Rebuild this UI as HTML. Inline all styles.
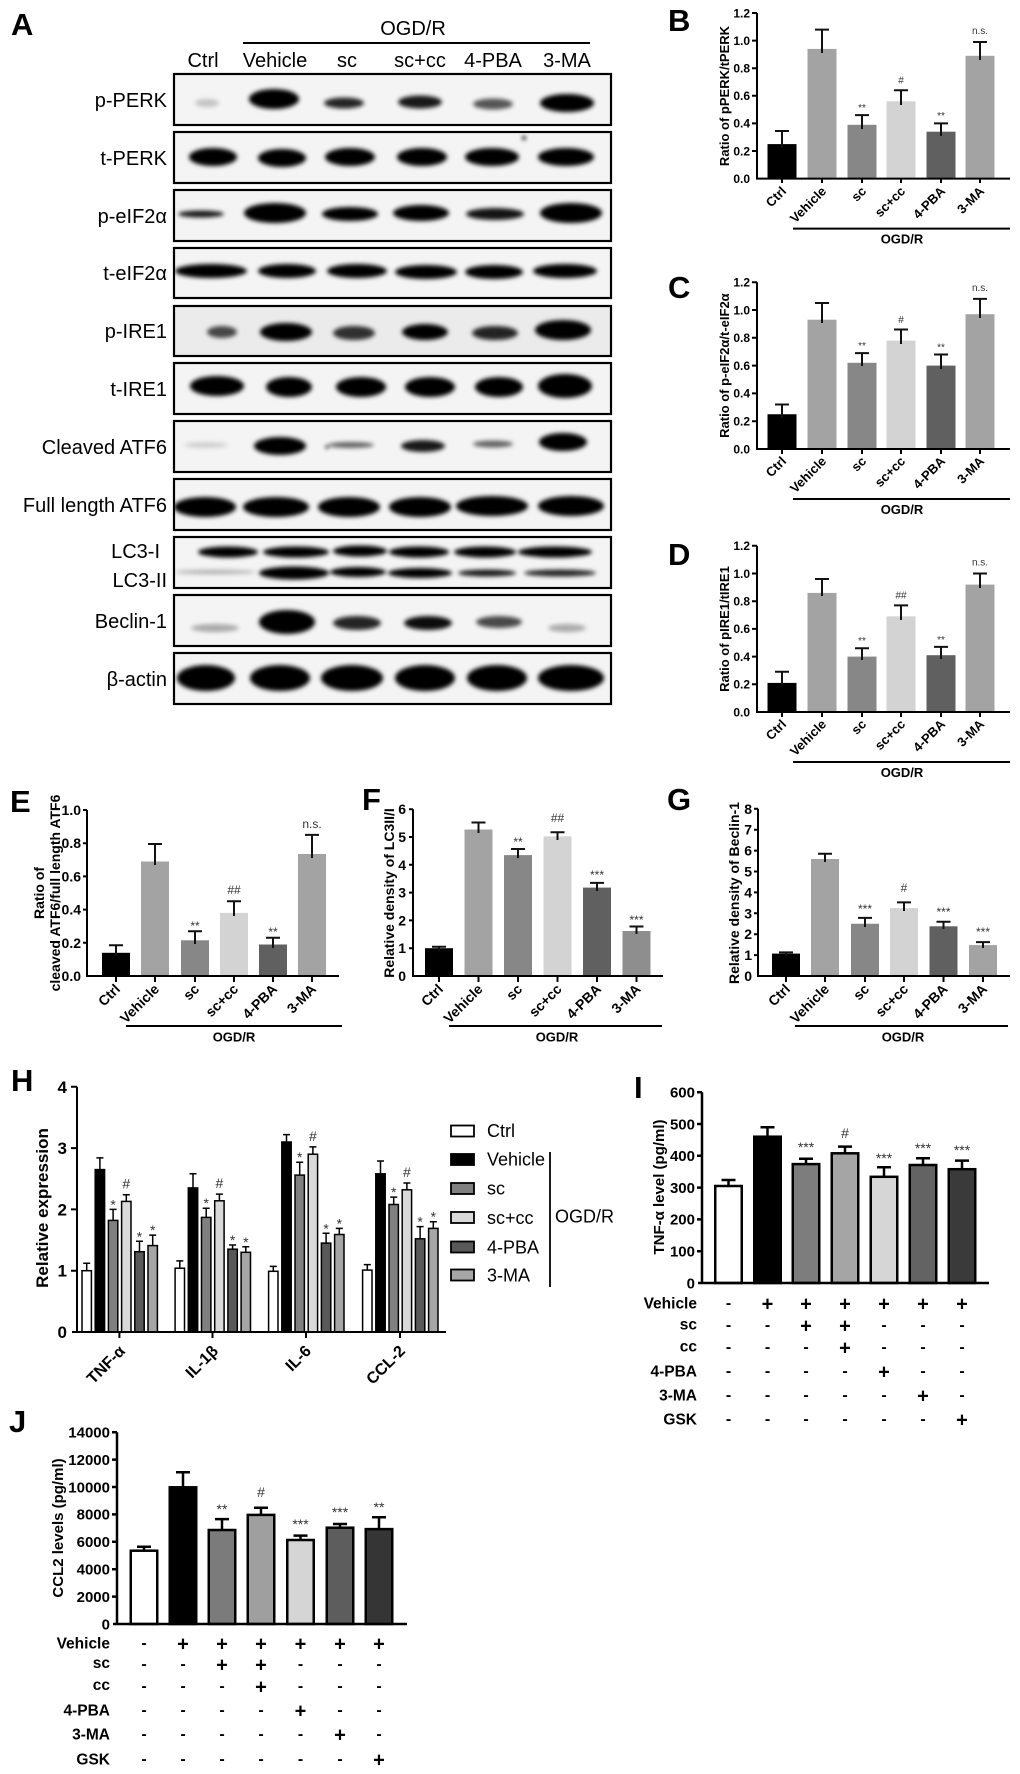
<!DOCTYPE html>
<html><head><meta charset="utf-8"><style>
html,body{margin:0;padding:0;background:#fff;}
svg{display:block;}
text{font-family:"Liberation Sans",Arial,sans-serif;}
.b{font-weight:bold;}
</style></head><body>
<svg xmlns="http://www.w3.org/2000/svg" width="1020" height="1774" viewBox="0 0 1020 1774">
<defs>
<filter id="bl" x="-20%" y="-20%" width="140%" height="140%"><feGaussianBlur stdDeviation="2.1"/></filter>
<clipPath id="bc">
<rect x="174" y="74" width="437" height="51"/><rect x="174" y="132" width="437" height="51"/><rect x="174" y="190" width="437" height="51"/><rect x="174" y="248" width="437" height="50"/><rect x="174" y="306" width="437" height="50"/><rect x="174" y="363" width="437" height="51"/><rect x="174" y="421" width="437" height="51"/><rect x="174" y="479" width="437" height="51"/><rect x="174" y="537" width="437" height="51"/><rect x="174" y="595" width="437" height="51"/><rect x="174" y="653" width="437" height="51"/>
</clipPath>
</defs>
<rect width="1020" height="1774" fill="#fff"/>

<!-- Panel letters -->
<g class="b" font-size="31">
<text x="11" y="35">A</text><text x="668" y="31">B</text><text x="668" y="298">C</text><text x="668" y="565">D</text>
<text x="10" y="812">E</text><text x="362" y="810">F</text><text x="667" y="810">G</text>
<text x="11" y="1091">H</text><text x="634" y="1098">I</text><text x="9" y="1432">J</text>
</g>

<!-- ============ Panel A ============ -->
<text x="413" y="35" font-size="20" text-anchor="middle">OGD/R</text>
<line x1="243" y1="43" x2="590" y2="43" stroke="#000" stroke-width="2"/>
<g font-size="20" text-anchor="middle">
<text x="203" y="67">Ctrl</text><text x="275" y="67">Vehicle</text><text x="347" y="67">sc</text><text x="420" y="67">sc+cc</text><text x="493" y="67">4-PBA</text><text x="567" y="67">3-MA</text>
</g>
<g font-size="20" text-anchor="end">
<text x="167" y="107">p-PERK</text>
<text x="167" y="165">t-PERK</text>
<text x="167" y="223">p-eIF2α</text>
<text x="167" y="280">t-eIF2α</text>
<text x="167" y="338">p-IRE1</text>
<text x="167" y="396">t-IRE1</text>
<text x="167" y="454">Cleaved ATF6</text>
<text x="167" y="512">Full length ATF6</text>
<text x="160" y="558">LC3-I</text>
<text x="167" y="587">LC3-II</text>
<text x="167" y="628">Beclin-1</text>
<text x="167" y="686">β-actin</text>
</g>
<g fill="#f4f4f4">
<rect x="174" y="74" width="437" height="51"/><rect x="174" y="132" width="437" height="51"/><rect x="174" y="190" width="437" height="51"/><rect x="174" y="248" width="437" height="50"/><rect x="174" y="306" width="437" height="50" fill="#ebebeb"/><rect x="174" y="363" width="437" height="51"/><rect x="174" y="421" width="437" height="51"/><rect x="174" y="479" width="437" height="51"/><rect x="174" y="537" width="437" height="51"/><rect x="174" y="595" width="437" height="51"/><rect x="174" y="653" width="437" height="51"/>
</g>
<g clip-path="url(#bc)"><g filter="url(#bl)" fill="#000">
<!-- p-PERK -->
<ellipse cx="207" cy="103" rx="12" ry="4" opacity="0.2"/>
<ellipse cx="274" cy="99" rx="25" ry="10"/>
<ellipse cx="344" cy="103" rx="20" ry="5.5" opacity="0.85"/>
<ellipse cx="420" cy="102" rx="22" ry="6.5" opacity="0.9"/>
<ellipse cx="493" cy="104" rx="20" ry="5.5" opacity="0.65"/>
<ellipse cx="567" cy="103" rx="27" ry="9"/>
<!-- t-PERK -->
<ellipse cx="213" cy="157" rx="24" ry="9"/>
<ellipse cx="282" cy="158" rx="24" ry="9"/>
<ellipse cx="350" cy="157" rx="25" ry="9"/>
<ellipse cx="422" cy="157" rx="25" ry="9"/>
<ellipse cx="492" cy="157" rx="27" ry="9"/>
<ellipse cx="566" cy="157" rx="28" ry="9"/>
<circle cx="524" cy="138" r="2"/>
<!-- p-eIF2a -->
<ellipse cx="201" cy="214" rx="23" ry="3.5" opacity="0.9"/>
<ellipse cx="275" cy="213" rx="31" ry="10"/>
<ellipse cx="350" cy="214" rx="28" ry="7"/>
<ellipse cx="421" cy="213" rx="28" ry="8"/>
<ellipse cx="495" cy="214" rx="29" ry="6" opacity="0.92"/>
<ellipse cx="571" cy="213" rx="31" ry="10"/>
<!-- t-eIF2a -->
<ellipse cx="211" cy="271" rx="36" ry="7"/>
<ellipse cx="287" cy="271" rx="29" ry="7"/>
<ellipse cx="357" cy="271" rx="30" ry="7"/>
<ellipse cx="426" cy="272" rx="31" ry="7"/>
<ellipse cx="494" cy="272" rx="29" ry="7"/>
<ellipse cx="565" cy="271" rx="32" ry="7"/>
<!-- p-IRE1 -->
<ellipse cx="222" cy="332" rx="15" ry="6" opacity="0.7"/>
<ellipse cx="286" cy="332" rx="26" ry="9"/>
<ellipse cx="354" cy="333" rx="21" ry="7" opacity="0.8"/>
<ellipse cx="425" cy="332" rx="23" ry="8"/>
<ellipse cx="495" cy="333" rx="23" ry="7" opacity="0.85"/>
<ellipse cx="563" cy="330" rx="28" ry="10"/>
<!-- t-IRE1 -->
<ellipse cx="217" cy="386" rx="27" ry="10"/>
<ellipse cx="289" cy="387" rx="23" ry="10"/>
<ellipse cx="361" cy="387" rx="25" ry="10"/>
<ellipse cx="430" cy="387" rx="25" ry="10"/>
<ellipse cx="499" cy="387" rx="24" ry="10"/>
<ellipse cx="565" cy="386" rx="27" ry="12"/>
<!-- Cleaved ATF6 -->
<ellipse cx="206" cy="445" rx="22" ry="3" opacity="0.15"/>
<ellipse cx="280" cy="446" rx="26" ry="9"/>
<ellipse cx="351" cy="445" rx="23" ry="3" opacity="0.6"/>
<ellipse cx="423" cy="446" rx="22" ry="6" opacity="0.9"/>
<ellipse cx="493" cy="444" rx="20" ry="3.5" opacity="0.6"/>
<ellipse cx="563" cy="442" rx="24" ry="9"/>
<circle cx="327" cy="447" r="1.6"/>
<!-- Full length ATF6 -->
<ellipse cx="205" cy="507" rx="31" ry="10"/>
<ellipse cx="276" cy="507" rx="33" ry="10"/>
<ellipse cx="349" cy="507" rx="31" ry="10"/>
<ellipse cx="420" cy="507" rx="31" ry="10"/>
<ellipse cx="492" cy="506" rx="36" ry="10"/>
<ellipse cx="571" cy="506" rx="33" ry="10"/>
<!-- LC3 -->
<ellipse cx="228" cy="552" rx="30" ry="5.5"/>
<ellipse cx="296" cy="552" rx="33" ry="5.5"/>
<ellipse cx="360" cy="551" rx="27" ry="5.5"/>
<ellipse cx="419" cy="552" rx="30" ry="5.5"/>
<ellipse cx="485" cy="552" rx="31" ry="5.5"/>
<ellipse cx="555" cy="552" rx="37" ry="5.5"/>
<ellipse cx="215" cy="572" rx="40" ry="2.5" opacity="0.25"/>
<ellipse cx="294" cy="573" rx="35" ry="6.5"/>
<ellipse cx="358" cy="572" rx="28" ry="5"/>
<ellipse cx="420" cy="573" rx="32" ry="5"/>
<ellipse cx="487" cy="573" rx="29" ry="3.5" opacity="0.9"/>
<ellipse cx="560" cy="573" rx="36" ry="3.5" opacity="0.85"/>
<!-- Beclin-1 -->
<ellipse cx="215" cy="628" rx="24" ry="4" opacity="0.3"/>
<ellipse cx="287" cy="622" rx="28" ry="12"/>
<ellipse cx="357" cy="623" rx="24" ry="7" opacity="0.85"/>
<ellipse cx="428" cy="623" rx="24" ry="7" opacity="0.95"/>
<ellipse cx="499" cy="622" rx="23" ry="6" opacity="0.7"/>
<ellipse cx="567" cy="628" rx="19" ry="4" opacity="0.3"/>
<!-- beta-actin -->
<ellipse cx="206" cy="678" rx="29" ry="13"/>
<ellipse cx="280" cy="678" rx="30" ry="13"/>
<ellipse cx="352" cy="678" rx="31" ry="13"/>
<ellipse cx="425" cy="678" rx="30" ry="13"/>
<ellipse cx="497" cy="678" rx="30" ry="13"/>
<ellipse cx="571" cy="678" rx="33" ry="13"/>
</g></g>
<g fill="none" stroke="#000" stroke-width="2.2">
<rect x="174" y="74" width="437" height="51"/><rect x="174" y="132" width="437" height="51"/><rect x="174" y="190" width="437" height="51"/><rect x="174" y="248" width="437" height="50"/><rect x="174" y="306" width="437" height="50"/><rect x="174" y="363" width="437" height="51"/><rect x="174" y="421" width="437" height="51"/><rect x="174" y="479" width="437" height="51"/><rect x="174" y="537" width="437" height="51"/><rect x="174" y="595" width="437" height="51"/><rect x="174" y="653" width="437" height="51"/>
</g>

<!-- ============ Panel B ============ -->
<g>
<rect x="767.5" y="144.1" width="29" height="34.5" fill="#000"/>
<rect x="807.5" y="48.9" width="29" height="129.7" fill="#a3a3a3"/>
<rect x="847.5" y="124.8" width="29" height="53.8" fill="#878787"/>
<rect x="886.5" y="101.3" width="29" height="77.3" fill="#d3d3d3"/>
<rect x="926.5" y="131.7" width="29" height="46.9" fill="#606060"/>
<rect x="965.5" y="55.8" width="29" height="122.8" fill="#a3a3a3"/>
<path d="M782 148V131M775 131H789M822 53V29.6M815 29.6H829M862 129V115.1M855 115.1H869M901 105V90.3M894 90.3H908M941 136V123.4M934 123.4H948M980 60V42M973 42H987" stroke="#111" stroke-width="2" fill="none"/>
<path d="M757 13V178.6H1010M752 13H757M752 40.6H757M752 68.2H757M752 95.8H757M752 123.4H757M752 151H757M782 178.6V183M822 178.6V183M862 178.6V183M901 178.6V183M941 178.6V183M980 178.6V183" stroke="#000" stroke-width="2" fill="none"/>
<g class="b" font-size="12" text-anchor="end">
<text x="750" y="17.3">1.2</text><text x="750" y="44.9">1.0</text><text x="750" y="72.5">0.8</text><text x="750" y="100.1">0.6</text><text x="750" y="127.7">0.4</text><text x="750" y="155.3">0.2</text><text x="750" y="182.9">0.0</text>
</g>
<g font-size="10" fill="#333" text-anchor="middle">
<text x="862" y="111">**</text><text x="901" y="83.5">#</text><text x="941" y="119">**</text><text x="980" y="34">n.s.</text>
</g>
<g class="b" font-size="13" text-anchor="end">
<text transform="translate(787,192) rotate(-45)">Ctrl</text>
<text transform="translate(827,192) rotate(-45)">Vehicle</text>
<text transform="translate(867,192) rotate(-45)">sc</text>
<text transform="translate(906,192) rotate(-45)">sc+cc</text>
<text transform="translate(946,192) rotate(-45)">4-PBA</text>
<text transform="translate(985,192) rotate(-45)">3-MA</text>
</g>
<line x1="793" y1="228.6" x2="1010" y2="228.6" stroke="#000" stroke-width="2"/>
<text x="902" y="243.6" class="b" font-size="13" text-anchor="middle">OGD/R</text>
<text transform="translate(729,96) rotate(-90)" class="b" font-size="13" text-anchor="middle">Ratio of pPERK/tPERK</text>
</g>

<!-- ============ Panel C ============ -->
<g>
<rect x="767.5" y="414.25" width="29" height="34.75" fill="#000"/>
<rect x="807.5" y="319.7" width="29" height="129.3" fill="#a3a3a3"/>
<rect x="847.5" y="362.8" width="29" height="86.2" fill="#878787"/>
<rect x="886.5" y="340.6" width="29" height="108.4" fill="#d3d3d3"/>
<rect x="926.5" y="365.6" width="29" height="83.4" fill="#606060"/>
<rect x="965.5" y="314.2" width="29" height="134.8" fill="#a3a3a3"/>
<path d="M782 418V404.5M775 404.5H789M822 323V303M815 303H829M862 366V353.1M855 353.1H869M901 344V329.5M894 329.5H908M941 369V354.5M934 354.5H948M980 318V298.9M973 298.9H987" stroke="#111" stroke-width="2" fill="none"/>
<path d="M757 282.2V449H1010M752 282.2H757M752 310H757M752 337.8H757M752 365.6H757M752 393.4H757M752 421.2H757M782 449V454M822 449V454M862 449V454M901 449V454M941 449V454M980 449V454" stroke="#000" stroke-width="2" fill="none"/>
<g class="b" font-size="12" text-anchor="end">
<text x="750" y="286.5">1.2</text><text x="750" y="314.3">1.0</text><text x="750" y="342.1">0.8</text><text x="750" y="369.9">0.6</text><text x="750" y="397.7">0.4</text><text x="750" y="425.5">0.2</text><text x="750" y="453.3">0.0</text>
</g>
<g font-size="10" fill="#333" text-anchor="middle">
<text x="862" y="349">**</text><text x="901" y="323">#</text><text x="941" y="350.5">**</text><text x="980" y="291">n.s.</text>
</g>
<g class="b" font-size="13" text-anchor="end">
<text transform="translate(787,462) rotate(-45)">Ctrl</text>
<text transform="translate(827,462) rotate(-45)">Vehicle</text>
<text transform="translate(867,462) rotate(-45)">sc</text>
<text transform="translate(906,462) rotate(-45)">sc+cc</text>
<text transform="translate(946,462) rotate(-45)">4-PBA</text>
<text transform="translate(985,462) rotate(-45)">3-MA</text>
</g>
<line x1="793" y1="499" x2="1010" y2="499" stroke="#000" stroke-width="2"/>
<text x="902" y="514" class="b" font-size="13" text-anchor="middle">OGD/R</text>
<text transform="translate(729,365.6) rotate(-90)" class="b" font-size="13" text-anchor="middle">Ratio of p-eIF2α/t-eIF2α</text>
</g>

<!-- ============ Panel D ============ -->
<g>
<rect x="767.5" y="682.9" width="29" height="29.1" fill="#000"/>
<rect x="807.5" y="592.9" width="29" height="119.1" fill="#a3a3a3"/>
<rect x="847.5" y="656.6" width="29" height="55.4" fill="#878787"/>
<rect x="886.5" y="616.4" width="29" height="95.6" fill="#d3d3d3"/>
<rect x="926.5" y="655.2" width="29" height="56.8" fill="#606060"/>
<rect x="965.5" y="584.6" width="29" height="127.4" fill="#a3a3a3"/>
<path d="M782 686V671.8M775 671.8H789M822 596V579M815 579H829M862 660V648.3M855 648.3H869M901 620V605.4M894 605.4H908M941 659V646.9M934 646.9H948M980 588V573.5M973 573.5H987" stroke="#111" stroke-width="2" fill="none"/>
<path d="M757 545.8V712H1010M752 545.8H757M752 573.5H757M752 601.2H757M752 628.9H757M752 656.6H757M752 684.3H757M782 712V717M822 712V717M862 712V717M901 712V717M941 712V717M980 712V717" stroke="#000" stroke-width="2" fill="none"/>
<g class="b" font-size="12" text-anchor="end">
<text x="750" y="550.1">1.2</text><text x="750" y="577.8">1.0</text><text x="750" y="605.5">0.8</text><text x="750" y="633.2">0.6</text><text x="750" y="660.9">0.4</text><text x="750" y="688.6">0.2</text><text x="750" y="716.3">0.0</text>
</g>
<g font-size="10" fill="#333" text-anchor="middle">
<text x="862" y="644">**</text><text x="901" y="598.5">##</text><text x="941" y="643">**</text><text x="980" y="565.5">n.s.</text>
</g>
<g class="b" font-size="13" text-anchor="end">
<text transform="translate(787,725) rotate(-45)">Ctrl</text>
<text transform="translate(827,725) rotate(-45)">Vehicle</text>
<text transform="translate(867,725) rotate(-45)">sc</text>
<text transform="translate(906,725) rotate(-45)">sc+cc</text>
<text transform="translate(946,725) rotate(-45)">4-PBA</text>
<text transform="translate(985,725) rotate(-45)">3-MA</text>
</g>
<line x1="793" y1="762" x2="1010" y2="762" stroke="#000" stroke-width="2"/>
<text x="902" y="777" class="b" font-size="13" text-anchor="middle">OGD/R</text>
<text transform="translate(729,629) rotate(-90)" class="b" font-size="13" text-anchor="middle">Ratio of pIRE1/tIRE1</text>
</g>

<!-- ============ Panel E ============ -->
<g>
<rect x="102" y="952.8" width="28" height="23.2" fill="#000"/>
<rect x="141" y="861.5" width="28" height="114.5" fill="#a3a3a3"/>
<rect x="181" y="940.3" width="28" height="35.7" fill="#878787"/>
<rect x="220" y="912.9" width="28" height="63.1" fill="#d3d3d3"/>
<rect x="259" y="944.5" width="28" height="31.5" fill="#606060"/>
<rect x="298" y="854" width="28" height="122" fill="#a3a3a3"/>
<path d="M116 956V945.3M109 945.3H123M155 865V844M148 844H162M195 944V931.2M188 931.2H202M234 916V901.3M227 901.3H241M273 948V937.8M266 937.8H280M312 858V834.9M305 834.9H319" stroke="#111" stroke-width="2" fill="none"/>
<path d="M87 810V976H339M83 810H87M83 843.2H87M83 876.4H87M83 909.6H87M83 942.8H87M116 976V982M155 976V982M195 976V982M234 976V982M273 976V982M312 976V982" stroke="#000" stroke-width="2" fill="none"/>
<g class="b" font-size="14" text-anchor="end">
<text x="81" y="815">1.0</text><text x="81" y="848.2">0.8</text><text x="81" y="881.4">0.6</text><text x="81" y="914.6">0.4</text><text x="81" y="947.8">0.2</text><text x="81" y="981">0.0</text>
</g>
<g font-size="12" fill="#333" text-anchor="middle">
<text x="195" y="930">**</text><text x="234" y="894">##</text><text x="273" y="936">**</text><text x="312" y="828">n.s.</text>
</g>
<g class="b" font-size="14" text-anchor="end">
<text transform="translate(121,990) rotate(-45)">Ctrl</text>
<text transform="translate(160,990) rotate(-45)">Vehicle</text>
<text transform="translate(200,990) rotate(-45)">sc</text>
<text transform="translate(239,990) rotate(-45)">sc+cc</text>
<text transform="translate(278,990) rotate(-45)">4-PBA</text>
<text transform="translate(317,990) rotate(-45)">3-MA</text>
</g>
<line x1="126" y1="1026" x2="342" y2="1026" stroke="#000" stroke-width="2"/>
<text x="234" y="1041.5" class="b" font-size="13" text-anchor="middle">OGD/R</text>
<text transform="translate(44,893) rotate(-90)" class="b" font-size="14" text-anchor="middle">Ratio of</text>
<text transform="translate(60,893) rotate(-90)" class="b" font-size="14" text-anchor="middle">cleaved ATF6/full length ATF6</text>
</g>

<!-- ============ Panel F ============ -->
<g>
<rect x="425" y="948.2" width="28" height="27.8" fill="#000"/>
<rect x="464.5" y="829.5" width="28" height="146.5" fill="#a3a3a3"/>
<rect x="504" y="855.1" width="28" height="120.9" fill="#878787"/>
<rect x="543.5" y="836.4" width="28" height="139.6" fill="#d3d3d3"/>
<rect x="583" y="887.6" width="28" height="88.4" fill="#606060"/>
<rect x="622.5" y="931" width="28" height="45" fill="#8e8e8e"/>
<path d="M439 951V946.8M432 946.8H446M478.5 833V822.5M471.5 822.5H485.5M518 858V849M511 849H525M557.5 840V832.3M550.5 832.3H564.5M597 891V882.9M590 882.9H604M636.5 934V926.5M629.5 926.5H643.5" stroke="#111" stroke-width="2" fill="none"/>
<path d="M413 809.2V976H663M409 809.2H413M409 837H413M409 864.8H413M409 892.6H413M409 920.4H413M409 948.2H413M439 976V982M478.5 976V982M518 976V982M557.5 976V982M597 976V982M636.5 976V982" stroke="#000" stroke-width="2" fill="none"/>
<g class="b" font-size="14" text-anchor="end">
<text x="406" y="814.2">6</text><text x="406" y="842">5</text><text x="406" y="869.8">4</text><text x="406" y="897.6">3</text><text x="406" y="925.4">2</text><text x="406" y="953.2">1</text><text x="406" y="981">0</text>
</g>
<g font-size="12" fill="#333" text-anchor="middle">
<text x="518" y="846">**</text><text x="557.5" y="822">##</text><text x="597" y="879">***</text><text x="636.5" y="924">***</text>
</g>
<g class="b" font-size="14" text-anchor="end">
<text transform="translate(444,990) rotate(-45)">Ctrl</text>
<text transform="translate(483.5,990) rotate(-45)">Vehicle</text>
<text transform="translate(523,990) rotate(-45)">sc</text>
<text transform="translate(562.5,990) rotate(-45)">sc+cc</text>
<text transform="translate(602,990) rotate(-45)">4-PBA</text>
<text transform="translate(641.5,990) rotate(-45)">3-MA</text>
</g>
<line x1="449" y1="1026" x2="662" y2="1026" stroke="#000" stroke-width="2"/>
<text x="557" y="1041.5" class="b" font-size="13" text-anchor="middle">OGD/R</text>
<text transform="translate(394,893) rotate(-90)" class="b" font-size="14" text-anchor="middle">Relative density of LC3II/I</text>
</g>

<!-- ============ Panel G ============ -->
<g>
<rect x="772" y="953.6" width="28" height="22.4" fill="#000"/>
<rect x="811" y="859" width="28" height="117" fill="#a3a3a3"/>
<rect x="851" y="923.75" width="28" height="52.25" fill="#878787"/>
<rect x="890" y="908.1" width="28" height="67.9" fill="#d3d3d3"/>
<rect x="929.5" y="926.3" width="28" height="49.7" fill="#606060"/>
<rect x="969" y="945.1" width="28" height="30.9" fill="#a3a3a3"/>
<path d="M786 956V952.4M779 952.4H793M825 862V853.7M818 853.7H832M865 927V917.9M858 917.9H872M904 911V902.4M897 902.4H911M943.5 929V921.7M936.5 921.7H950.5M983 948V942.1M976 942.1H990" stroke="#111" stroke-width="2" fill="none"/>
<path d="M758 808.8V976H1010M754 808.8H758M754 829.7H758M754 850.6H758M754 871.5H758M754 892.4H758M754 913.3H758M754 934.2H758M754 955.1H758M786 976V982M825 976V982M865 976V982M904 976V982M943.5 976V982M983 976V982" stroke="#000" stroke-width="2" fill="none"/>
<g class="b" font-size="14" text-anchor="end">
<text x="752" y="813.8">8</text><text x="752" y="834.7">7</text><text x="752" y="855.6">6</text><text x="752" y="876.5">5</text><text x="752" y="897.4">4</text><text x="752" y="918.3">3</text><text x="752" y="939.2">2</text><text x="752" y="960.1">1</text><text x="752" y="981">0</text>
</g>
<g font-size="12" fill="#333" text-anchor="middle">
<text x="865" y="913">***</text><text x="904" y="892">#</text><text x="943.5" y="916">***</text><text x="983" y="936">***</text>
</g>
<g class="b" font-size="14" text-anchor="end">
<text transform="translate(791,990) rotate(-45)">Ctrl</text>
<text transform="translate(830,990) rotate(-45)">Vehicle</text>
<text transform="translate(870,990) rotate(-45)">sc</text>
<text transform="translate(909,990) rotate(-45)">sc+cc</text>
<text transform="translate(948.5,990) rotate(-45)">4-PBA</text>
<text transform="translate(988,990) rotate(-45)">3-MA</text>
</g>
<line x1="795" y1="1026" x2="1008" y2="1026" stroke="#000" stroke-width="2"/>
<text x="903" y="1041.5" class="b" font-size="13" text-anchor="middle">OGD/R</text>
<text transform="translate(739,893) rotate(-90)" class="b" font-size="14" text-anchor="middle">Relative density of Beclin-1</text>
</g>

<!-- ============ Panel H ============ -->
<g>
<g stroke="#000" stroke-width="1.5">
<rect x="82" y="1270.7" width="9.4" height="61.3" fill="#fff"/>
<rect x="95.2" y="1169.6" width="9.4" height="162.4" fill="#000"/>
<rect x="108.4" y="1220.4" width="9.4" height="111.6" fill="#808080"/>
<rect x="121.6" y="1201.4" width="9.4" height="130.6" fill="#d9d9d9"/>
<rect x="134.8" y="1251.7" width="9.4" height="80.3" fill="#595959"/>
<rect x="148" y="1245.6" width="9.4" height="86.4" fill="#a6a6a6"/>
<rect x="175.1" y="1268.2" width="9.4" height="63.8" fill="#fff"/>
<rect x="188.3" y="1187.9" width="9.4" height="144.1" fill="#000"/>
<rect x="201.5" y="1217.4" width="9.4" height="114.6" fill="#808080"/>
<rect x="214.7" y="1200.8" width="9.4" height="131.2" fill="#d9d9d9"/>
<rect x="227.9" y="1249.2" width="9.4" height="82.8" fill="#595959"/>
<rect x="241.1" y="1252.3" width="9.4" height="79.7" fill="#a6a6a6"/>
<rect x="268.6" y="1271.3" width="9.4" height="60.7" fill="#fff"/>
<rect x="281.8" y="1142" width="9.4" height="190" fill="#000"/>
<rect x="295" y="1175.1" width="9.4" height="156.9" fill="#808080"/>
<rect x="308.2" y="1154.2" width="9.4" height="177.8" fill="#d9d9d9"/>
<rect x="321.4" y="1243.1" width="9.4" height="88.9" fill="#595959"/>
<rect x="334.6" y="1234.5" width="9.4" height="97.5" fill="#a6a6a6"/>
<rect x="362.6" y="1270.1" width="9.4" height="61.9" fill="#fff"/>
<rect x="375.8" y="1173.8" width="9.4" height="158.2" fill="#000"/>
<rect x="389" y="1204.5" width="9.4" height="127.5" fill="#808080"/>
<rect x="402.2" y="1189.8" width="9.4" height="142.2" fill="#d9d9d9"/>
<rect x="415.4" y="1238.8" width="9.4" height="93.2" fill="#595959"/>
<rect x="428.6" y="1228.4" width="9.4" height="103.6" fill="#a6a6a6"/>
</g>
<path d="M86.7 1270.7V1263.3M83.2 1263.3H90.2M99.9 1169.6V1157.9M96.4 1157.9H103.4M113.1 1220.4V1209.4M109.6 1209.4H116.6M126.3 1201.4V1194.7M122.8 1194.7H129.8M139.5 1251.7V1241.3M136 1241.3H143M152.7 1245.6V1235.1M149.2 1235.1H156.2M179.8 1268.2V1260.9M176.3 1260.9H183.3M193 1187.9V1173.8M189.5 1173.8H196.5M206.2 1217.4V1208.2M202.7 1208.2H209.7M219.4 1200.8V1194.1M215.9 1194.1H222.9M232.6 1249.2V1245M229.1 1245H236.1M245.8 1252.3V1246.8M242.3 1246.8H249.3M273.3 1271.3V1266.4M269.8 1266.4H276.8M286.5 1142V1134.6M283 1134.6H290M299.7 1175.1V1162.2M296.2 1162.2H303.2M312.9 1154.2V1146.9M309.4 1146.9H316.4M326.1 1243.1V1233.3M322.6 1233.3H329.6M339.3 1234.5V1228.4M335.8 1228.4H342.8M367.3 1270.1V1264.6M363.8 1264.6H370.8M380.5 1173.8V1161M377 1161H384M393.7 1204.5V1197.1M390.2 1197.1H397.2M406.9 1189.8V1183M403.4 1183H410.4M420.1 1238.8V1226.6M416.6 1226.6H423.6M433.3 1228.4V1221.7M429.8 1221.7H436.8" stroke="#000" stroke-width="1.5" fill="none"/>
<path d="M77 1086.8V1332M72 1332H446M71 1086.8H77M71 1148.1H77M71 1209.4H77M71 1270.7H77M119.4 1332V1338M212.5 1332V1338M306 1332V1338M400 1332V1338" stroke="#000" stroke-width="2" fill="none"/>
<g class="b" font-size="17" text-anchor="end">
<text x="67" y="1092.8">4</text><text x="67" y="1154.1">3</text><text x="67" y="1215.4">2</text><text x="67" y="1276.7">1</text><text x="67" y="1338">0</text>
</g>
<g font-size="14" fill="#333" text-anchor="middle">
<text x="113.1" y="1209.4">*</text><text x="126.3" y="1188.7">#</text><text x="139.5" y="1241.3">*</text><text x="152.7" y="1235.1">*</text>
<text x="206.2" y="1208.2">*</text><text x="219.4" y="1188.1">#</text><text x="232.6" y="1245">*</text><text x="245.8" y="1246.8">*</text>
<text x="299.7" y="1162.2">*</text><text x="312.9" y="1140.9">#</text><text x="326.1" y="1233.3">*</text><text x="339.3" y="1228.4">*</text>
<text x="393.7" y="1197.1">*</text><text x="406.9" y="1177">#</text><text x="420.1" y="1226.6">*</text><text x="433.3" y="1221.7">*</text>
</g>
<g class="b" font-size="16" text-anchor="end">
<text transform="translate(126,1352) rotate(-45)">TNF-α</text>
<text transform="translate(219,1352) rotate(-45)">IL-1β</text>
<text transform="translate(312,1352) rotate(-45)">IL-6</text>
<text transform="translate(406,1352) rotate(-45)">CCL-2</text>
</g>
<text transform="translate(48,1208) rotate(-90)" class="b" font-size="17" text-anchor="middle">Relative expression</text>
<g stroke="#000" stroke-width="1.8">
<rect x="451" y="1125.5" width="23" height="11" fill="#fff"/>
<rect x="451" y="1154" width="23" height="11" fill="#000"/>
<rect x="451" y="1183" width="23" height="11" fill="#808080"/>
<rect x="451" y="1212" width="23" height="11" fill="#d9d9d9"/>
<rect x="451" y="1241.5" width="23" height="11" fill="#595959"/>
<rect x="451" y="1269.5" width="23" height="11" fill="#a6a6a6"/>
<line x1="550" y1="1152" x2="550" y2="1287"/>
</g>
<g font-size="18">
<text x="487" y="1137">Ctrl</text>
<text x="487" y="1165.5">Vehicle</text>
<text x="487" y="1194.5">sc</text>
<text x="487" y="1224">sc+cc</text>
<text x="487" y="1253.5">4-PBA</text>
<text x="487" y="1281.5">3-MA</text>
<text x="555" y="1222.5">OGD/R</text>
</g>
</g>

<!-- ============ Panel I ============ -->
<g>
<g stroke="#000" stroke-width="2.5">
<rect x="715.25" y="1186" width="26.5" height="97" fill="#fff"/>
<rect x="754.25" y="1136.7" width="26.5" height="146.3" fill="#000"/>
<rect x="792.75" y="1164.1" width="26.5" height="118.9" fill="#7d7d7d"/>
<rect x="831.75" y="1153.3" width="26.5" height="129.7" fill="#a5a5a5"/>
<rect x="870.75" y="1176.8" width="26.5" height="106.2" fill="#d6d6d6"/>
<rect x="909.75" y="1165" width="26.5" height="118" fill="#636363"/>
<rect x="948.75" y="1169.2" width="26.5" height="113.8" fill="#3a3a3a"/>
</g>
<path d="M728.5 1186V1180M721.5 1180H735.5M767.5 1136.7V1127.2M760.5 1127.2H774.5M806 1164.1V1158.7M799 1158.7H813M845 1153.3V1146.6M838 1146.6H852M884 1176.8V1167.2M877 1167.2H891M923 1165V1158.3M916 1158.3H930M962 1169.2V1160.6M955 1160.6H969" stroke="#000" stroke-width="2.5" fill="none"/>
<path d="M702 1092.2V1283M698 1283H989M697 1092.2H702M697 1124H702M697 1155.8H702M697 1187.6H702M697 1219.4H702M697 1251.2H702" stroke="#000" stroke-width="2.5" fill="none"/>
<g class="b" font-size="15" text-anchor="end">
<text x="695" y="1097.5">600</text><text x="695" y="1129.3">500</text><text x="695" y="1161.1">400</text><text x="695" y="1192.9">300</text><text x="695" y="1224.7">200</text><text x="695" y="1256.5">100</text><text x="695" y="1288.3">0</text>
</g>
<g font-size="14" fill="#333" text-anchor="middle">
<text x="806" y="1152">***</text><text x="845" y="1138">#</text><text x="884" y="1163">***</text><text x="923" y="1153">***</text><text x="962" y="1155">***</text>
</g>
<text transform="translate(664,1187) rotate(-90)" class="b" font-size="15" text-anchor="middle">TNF-α level (pg/ml)</text>
<g class="b" font-size="15.5" text-anchor="end">
<text x="697" y="1308.5">Vehicle</text><text x="697" y="1329.5">sc</text><text x="697" y="1351.5">cc</text><text x="697" y="1376.5">4-PBA</text><text x="697" y="1400.5">3-MA</text><text x="697" y="1424.5">GSK</text>
</g>
<g class="b" text-anchor="middle">
<g font-size="16"><text x="728.5" y="1308">-</text></g>
<g font-size="20"><text x="767.5" y="1310.5">+</text><text x="806" y="1310.5">+</text><text x="845" y="1310.5">+</text><text x="884" y="1310.5">+</text><text x="923" y="1310.5">+</text><text x="962" y="1310.5">+</text></g>
<g font-size="16"><text x="728.5" y="1330">-</text><text x="767.5" y="1330">-</text><text x="884" y="1330">-</text><text x="923" y="1330">-</text><text x="962" y="1330">-</text></g>
<g font-size="20"><text x="806" y="1332.5">+</text><text x="845" y="1332.5">+</text></g>
<g font-size="16"><text x="728.5" y="1352">-</text><text x="767.5" y="1352">-</text><text x="806" y="1352">-</text><text x="884" y="1352">-</text><text x="923" y="1352">-</text><text x="962" y="1352">-</text></g>
<g font-size="20"><text x="845" y="1354.5">+</text></g>
<g font-size="16"><text x="728.5" y="1376">-</text><text x="767.5" y="1376">-</text><text x="806" y="1376">-</text><text x="845" y="1376">-</text><text x="923" y="1376">-</text><text x="962" y="1376">-</text></g>
<g font-size="20"><text x="884" y="1378.5">+</text></g>
<g font-size="16"><text x="728.5" y="1400">-</text><text x="767.5" y="1400">-</text><text x="806" y="1400">-</text><text x="845" y="1400">-</text><text x="884" y="1400">-</text><text x="962" y="1400">-</text></g>
<g font-size="20"><text x="923" y="1402.5">+</text></g>
<g font-size="16"><text x="728.5" y="1424">-</text><text x="767.5" y="1424">-</text><text x="806" y="1424">-</text><text x="845" y="1424">-</text><text x="884" y="1424">-</text><text x="923" y="1424">-</text></g>
<g font-size="20"><text x="962" y="1426.5">+</text></g>
</g>
</g>

<!-- ============ Panel J ============ -->
<g>
<g stroke="#000" stroke-width="2.5">
<rect x="130.75" y="1550.7" width="26.5" height="73.3" fill="#fff"/>
<rect x="169.75" y="1487.3" width="26.5" height="136.7" fill="#000"/>
<rect x="208.75" y="1530" width="26.5" height="94" fill="#7b7b7b"/>
<rect x="247.75" y="1514.9" width="26.5" height="109.1" fill="#9f9f9f"/>
<rect x="287.25" y="1540" width="26.5" height="84" fill="#d5d5d5"/>
<rect x="326.75" y="1527.7" width="26.5" height="96.3" fill="#5d5d5d"/>
<rect x="365.75" y="1529.1" width="26.5" height="94.9" fill="#353535"/>
</g>
<path d="M144 1550.7V1546.7M137 1546.7H151M183 1487.3V1472.3M176 1472.3H190M222 1530V1519.1M215 1519.1H229M261 1514.9V1507.7M254 1507.7H268M300.5 1540V1535.6M293.5 1535.6H307.5M340 1527.7V1524M333 1524H347M379 1529.1V1517.3M372 1517.3H386" stroke="#000" stroke-width="2.5" fill="none"/>
<path d="M117 1432.2V1624M113 1624H407M112 1432.2H117M112 1459.6H117M112 1487H117M112 1514.4H117M112 1541.8H117M112 1569.2H117M112 1596.6H117" stroke="#000" stroke-width="2.5" fill="none"/>
<g class="b" font-size="15" text-anchor="end">
<text x="110" y="1437.5">14000</text><text x="110" y="1464.9">12000</text><text x="110" y="1492.3">10000</text><text x="110" y="1519.7">8000</text><text x="110" y="1547.1">6000</text><text x="110" y="1574.5">4000</text><text x="110" y="1601.9">2000</text><text x="110" y="1629.3">0</text>
</g>
<g font-size="14" fill="#333" text-anchor="middle">
<text x="222" y="1514">**</text><text x="261" y="1497">#</text><text x="300.5" y="1529">***</text><text x="340" y="1517">***</text><text x="379" y="1512">**</text>
</g>
<text transform="translate(63,1528) rotate(-90)" class="b" font-size="15" text-anchor="middle">CCL2 levels (pg/ml)</text>
<g class="b" font-size="15.5" text-anchor="end">
<text x="110" y="1648.5">Vehicle</text><text x="110" y="1668">sc</text><text x="110" y="1690">cc</text><text x="110" y="1715.5">4-PBA</text><text x="110" y="1739.5">3-MA</text><text x="110" y="1764.5">GSK</text>
</g>
<g class="b" text-anchor="middle">
<g font-size="16"><text x="144" y="1648">-</text></g>
<g font-size="20"><text x="183" y="1650.5">+</text><text x="222" y="1650.5">+</text><text x="261" y="1650.5">+</text><text x="300.5" y="1650.5">+</text><text x="340" y="1650.5">+</text><text x="379" y="1650.5">+</text></g>
<g font-size="16"><text x="144" y="1669">-</text><text x="183" y="1669">-</text><text x="300.5" y="1669">-</text><text x="340" y="1669">-</text><text x="379" y="1669">-</text></g>
<g font-size="20"><text x="222" y="1671.5">+</text><text x="261" y="1671.5">+</text></g>
<g font-size="16"><text x="144" y="1691">-</text><text x="183" y="1691">-</text><text x="222" y="1691">-</text><text x="300.5" y="1691">-</text><text x="340" y="1691">-</text><text x="379" y="1691">-</text></g>
<g font-size="20"><text x="261" y="1693.5">+</text></g>
<g font-size="16"><text x="144" y="1715">-</text><text x="183" y="1715">-</text><text x="222" y="1715">-</text><text x="261" y="1715">-</text><text x="340" y="1715">-</text><text x="379" y="1715">-</text></g>
<g font-size="20"><text x="300.5" y="1717.5">+</text></g>
<g font-size="16"><text x="144" y="1739">-</text><text x="183" y="1739">-</text><text x="222" y="1739">-</text><text x="261" y="1739">-</text><text x="300.5" y="1739">-</text><text x="379" y="1739">-</text></g>
<g font-size="20"><text x="340" y="1741.5">+</text></g>
<g font-size="16"><text x="144" y="1764">-</text><text x="183" y="1764">-</text><text x="222" y="1764">-</text><text x="261" y="1764">-</text><text x="300.5" y="1764">-</text><text x="340" y="1764">-</text></g>
<g font-size="20"><text x="379" y="1766.5">+</text></g>
</g>
</g>
</svg>
</body></html>
